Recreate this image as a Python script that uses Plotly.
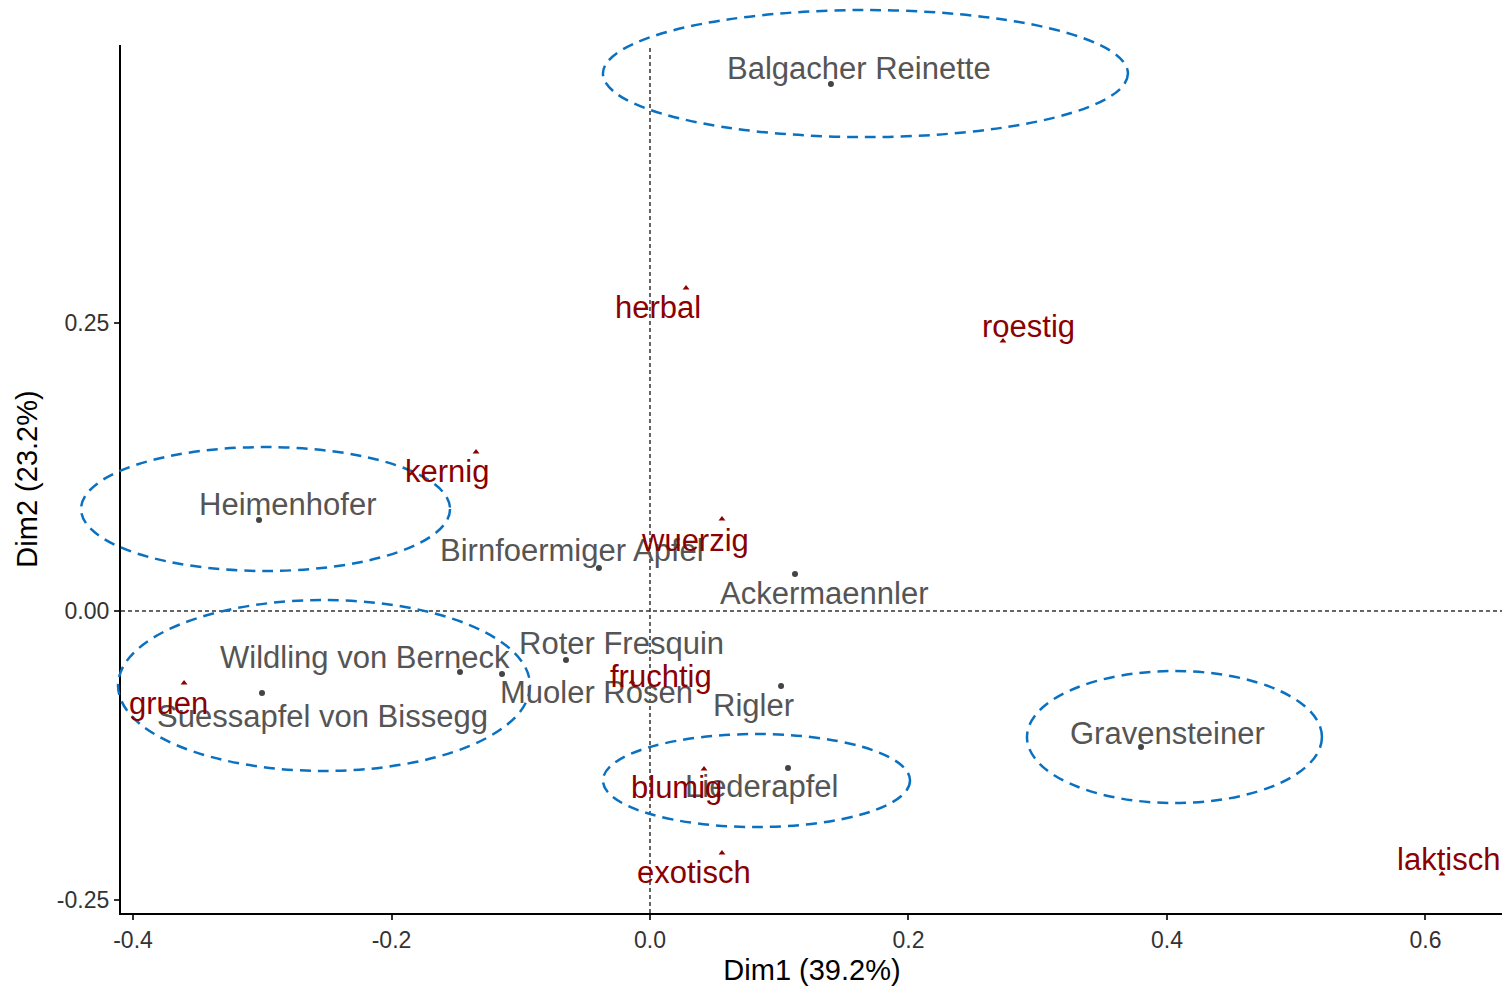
import plotly.graph_objects as go

# ---------------- data ----------------
apple_names = ["Balgacher Reinette", "Heimenhofer", "Birnfoermiger Apfel", "Ackermaennler",
               "Roter Fresquin", "Wildling von Berneck", "Muoler Rosen", "Rigler",
               "Suessapfel von Bissegg", "Gravensteiner", "Liederapfel"]
apple_dim1 = [0.1400, -0.3025, -0.0395, 0.1122, -0.0650, -0.1470, -0.1145, 0.1014,
              -0.3002, 0.3799, 0.1068]
apple_dim2 = [0.4567, 0.0789, 0.0373, 0.0321, -0.0425, -0.0529, -0.0546, -0.0650,
              -0.0711, -0.1179, -0.1360]

var_names = ["herbal", "roestig", "kernig", "wuerzig", "fruchtig", "gruen",
             "blumig", "exotisch", "laktisch"]
var_dim1 = [0.0279, 0.2731, -0.1346, 0.0557, -0.0139, -0.3605, 0.0418, 0.0557, 0.6128]
var_dim2 = [0.2799, 0.2340, 0.1378, 0.0797, -0.0615, -0.0624, -0.1369, -0.2097, -0.2279]

# label offsets (pixels, right / down) as placed by repel
apple_dx = [28, 28, -27, 29, 56, -95, 94, -28, 60, 27, -27]
apple_dy = [-16, -15, -17, 20, -17, -15, 18, 19, 23, -14, 19]
var_dx = [-28, 26, -29, -27, 29, -16, -28, -28, 6]
var_dy = [19, -14, 19, 21, -5, 20, 19, 20, -15]

# group ellipses (data bounds)
ell_x0 = [-0.0364, -0.4402, -0.4116, -0.0364, 0.2917]
ell_x1 = [0.3698, -0.1547, -0.0928, 0.2012, 0.5199]
ell_y0 = [0.4107, 0.0347, -0.1386, -0.1872, -0.1664]
ell_y1 = [0.5208, 0.1421, 0.0095, -0.1066, -0.0520]

x_range = [-0.4093, 0.6600]
y_range = [-0.2617, 0.4905]
x_ticks = [-0.4, -0.2, 0.0, 0.2, 0.4, 0.6]
x_ticktext = ["-0.4", "-0.2", "0.0", "0.2", "0.4", "0.6"]
y_ticks = [-0.25, 0.0, 0.25]
y_ticktext = ["-0.25", "0.00", "0.25"]

# ---------------- style ----------------
FONT = "Liberation Sans, Arial, Helvetica, sans-serif"
GRAY = "#555555"
RED = "#8B0000"
BLUE = "#0A70C0"

fig = go.Figure()

# reference lines
fig.add_trace(go.Scatter(x=[0, 0], y=y_range, mode="lines",
                         line=dict(color="#333333", width=1.5, dash="4px,3px"),
                         hoverinfo="skip", showlegend=False))
fig.add_trace(go.Scatter(x=x_range, y=[0, 0], mode="lines",
                         line=dict(color="#333333", width=1.5, dash="4px,3px"),
                         hoverinfo="skip", showlegend=False))

fig.add_trace(go.Scatter(x=apple_dim1, y=apple_dim2, mode="markers",
                         marker=dict(color="#444444", size=6, symbol="circle"),
                         showlegend=False, cliponaxis=False))
fig.add_trace(go.Scatter(x=var_dim1, y=var_dim2, mode="markers",
                         marker=dict(color=RED, size=6, symbol="triangle-up"),
                         showlegend=False, cliponaxis=False))


def to_paper_x(v):
    return (v - x_range[0]) / (x_range[1] - x_range[0])


def to_paper_y(v):
    return (v - y_range[0]) / (y_range[1] - y_range[0])


for a, b, c, d in zip(ell_x0, ell_x1, ell_y0, ell_y1):
    fig.add_shape(type="circle", xref="paper", yref="paper",
                  x0=to_paper_x(a), x1=to_paper_x(b), y0=to_paper_y(c), y1=to_paper_y(d),
                  line=dict(color=BLUE, width=2.5, dash="11px,7px"), layer="above")

annotations = []
for n, x, y, dx, dy in zip(apple_names, apple_dim1, apple_dim2, apple_dx, apple_dy):
    annotations.append(dict(x=x, y=y, xref="x", yref="y", text=n, showarrow=False,
                            xshift=dx, yshift=-dy, xanchor="center", yanchor="middle",
                            font=dict(family=FONT, size=31, color=GRAY)))
for n, x, y, dx, dy in zip(var_names, var_dim1, var_dim2, var_dx, var_dy):
    annotations.append(dict(x=x, y=y, xref="x", yref="y", text=n, showarrow=False,
                            xshift=dx, yshift=-dy, xanchor="center", yanchor="middle",
                            font=dict(family=FONT, size=31, color=RED)))

fig.update_layout(
    width=1502, height=983,
    margin=dict(l=113, r=7, t=37, b=78),
    paper_bgcolor="white", plot_bgcolor="white",
    font=dict(family=FONT),
    annotations=annotations,
    showlegend=False,
    xaxis=dict(range=x_range, showgrid=False, zeroline=False,
               showline=True, linecolor="black", linewidth=2.2,
               ticks="outside", ticklen=5, tickwidth=1.5, tickcolor="#333333",
               tickvals=x_ticks, ticktext=x_ticktext,
               tickfont=dict(family=FONT, size=23, color="#333333"),
               title=dict(text="Dim1 (39.2%)", standoff=8,
                          font=dict(family=FONT, size=29, color="black"))),
    yaxis=dict(range=y_range, showgrid=False, zeroline=False,
               showline=True, linecolor="black", linewidth=2.2,
               ticks="outside", ticklen=5, tickwidth=1.5, tickcolor="#333333",
               tickvals=y_ticks, ticktext=y_ticktext,
               tickfont=dict(family=FONT, size=23, color="#333333"),
               title=dict(text="Dim2 (23.2%)", standoff=11,
                          font=dict(family=FONT, size=29, color="black"))),
)

fig.write_html("out.html")
